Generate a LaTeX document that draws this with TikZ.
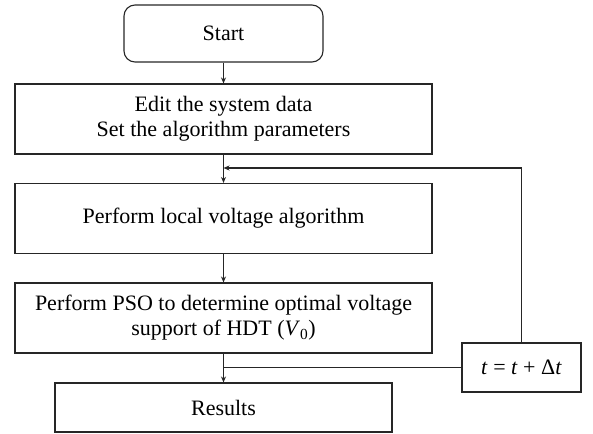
\documentclass[tikz,border=0pt]{standalone}
\usepackage{fontspec}
\setmainfont{Liberation Serif}
\usetikzlibrary{arrows.meta}
\usetikzlibrary{calc}

\begin{document}
\begin{tikzpicture}[x=1pt,y=-1pt,->,>={Stealth[length=6pt,width=5pt]},line width=1.1pt,
        font=\fontsize{22}{25}\selectfont,
        block/.style={rectangle,draw=black!85,align=center,inner sep=0pt,line width=1.1pt},
        startbox/.style={block,rounded corners=11pt,minimum width=199pt,minimum height=57pt},
        widebox/.style={block,minimum width=417pt,minimum height=70pt}]
        \useasboundingbox (0,0) rectangle (593,433);
        \node[startbox] (start) at (223.5,33.5) {Start};
        \node[widebox]  (edit)  at (223.5,119) {Edit the system data\\Set the algorithm parameters};
        \node[widebox]  (local) at (223.5,218.5) {Perform local voltage algorithm};
        \node[widebox]  (pso)   at (223.5,318) {Perform PSO to determine optimal voltage\\support of HDT (\textit{V}\textsubscript{0})};
        \node[block,minimum width=337pt,minimum height=49pt] (res) at (223.5,407.5) {Results};
        \node[block,minimum width=119pt,minimum height=49pt] (tinc) at (521.5,367.5) {\textit{t} = \textit{t} + Δ\textit{t}};
        \coordinate (join) at (223.5,168);
        \path[draw=black!85]
          (start) edge (edit)
          (edit) edge (local)
          (local) edge (pso)
          (pso) edge (res)
          ;
        \draw[-,draw=black!85] (tinc.west) -- (tinc.west -| pso.south);
        \draw[draw=black!85] (tinc.north) |- (join);
      \end{tikzpicture}
\end{document}
